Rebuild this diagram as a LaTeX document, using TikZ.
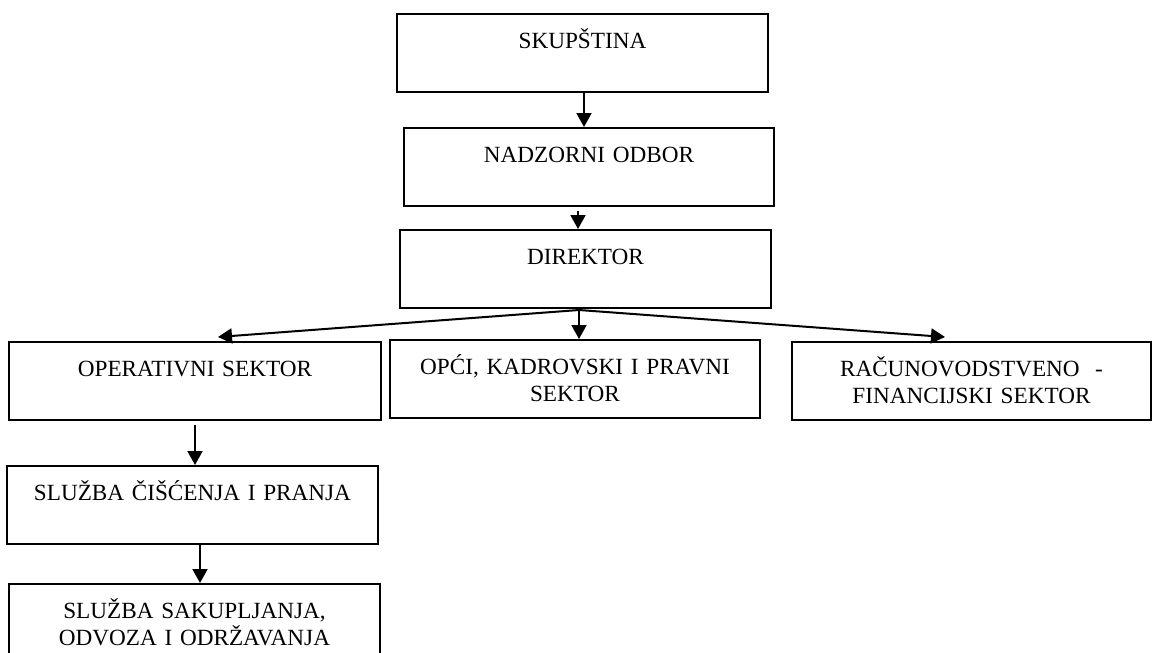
\documentclass[tikz,border=0pt]{standalone}
\usepackage{fontspec}
\setmainfont{Liberation Serif}
\usetikzlibrary{calc,arrows.meta}

\tikzset{
	unit/.style={draw, line width=1pt, inner sep=0pt, anchor=north, align=center,
		text width=#1, text height=17pt, text depth=22pt, font=\fontsize{11.6}{13.5}\selectfont},
	arr/.style={line width=1pt, -{Triangle[width=7.5pt,length=7pt]}}
}

\begin{document}
\begin{tikzpicture}[x=1pt,y=1pt]
			\useasboundingbox (0,0) rectangle (576,-326.5);
			\node[unit=185.5pt] (skup) at (291.25,-6.5) {SKUPŠTINA};
			\node[unit=185pt] (nadz) at (294.5,-63.5) {NADZORNI ODBOR};
			\node[unit=185.5pt] (dir) at (292.75,-114.5) {DIREKTOR};
			\node[unit=186pt] (oper) at (97.5,-170.5) {OPERATIVNI SEKTOR};
			\node[unit=185pt] (opci) at (287.5,-169.5) {OPĆI, KADROVSKI I PRAVNI\\SEKTOR};
			\node[unit=179.5pt] (racun) at (485.75,-170.5) {RAČUNOVODSTVENO~~-\\FINANCIJSKI SEKTOR};
			\node[unit=185.5pt] (ciscenje) at (96.25,-232.5) {SLUŽBA ČIŠĆENJA I PRANJA};
			\node[unit=185.5pt] (odvoz) at (97.25,-291.5) {SLUŽBA SAKUPLJANJA,\\ODVOZA I ODRŽAVANJA};
			%
			\coordinate (fork) at ($(dir.south)+(-3.25,-0.5)$);
			%
			\draw[arr] ([xshift=0.75pt]skup.south) -- ([xshift=0.75pt]skup.south |- nadz.north);
			\draw[arr] ([xshift=-5.5pt,yshift=-2pt]nadz.south) -- ([xshift=-5.5pt]nadz.south |- dir.north);
			\draw[arr] (fork) -- ($(oper.north)+(11.5,2)$);
			\draw[arr] (fork) -- (fork |- opci.north);
			\draw[arr] (fork) -- ($(racun.north)+(-13.25,2)$);
			\draw[arr] ([yshift=-2pt]oper.south) -- (oper.south |- ciscenje.north);
			\draw[arr] ([xshift=3.75pt]ciscenje.south) -- ([xshift=3.75pt]ciscenje.south |- odvoz.north);
\end{tikzpicture}
\end{document}
